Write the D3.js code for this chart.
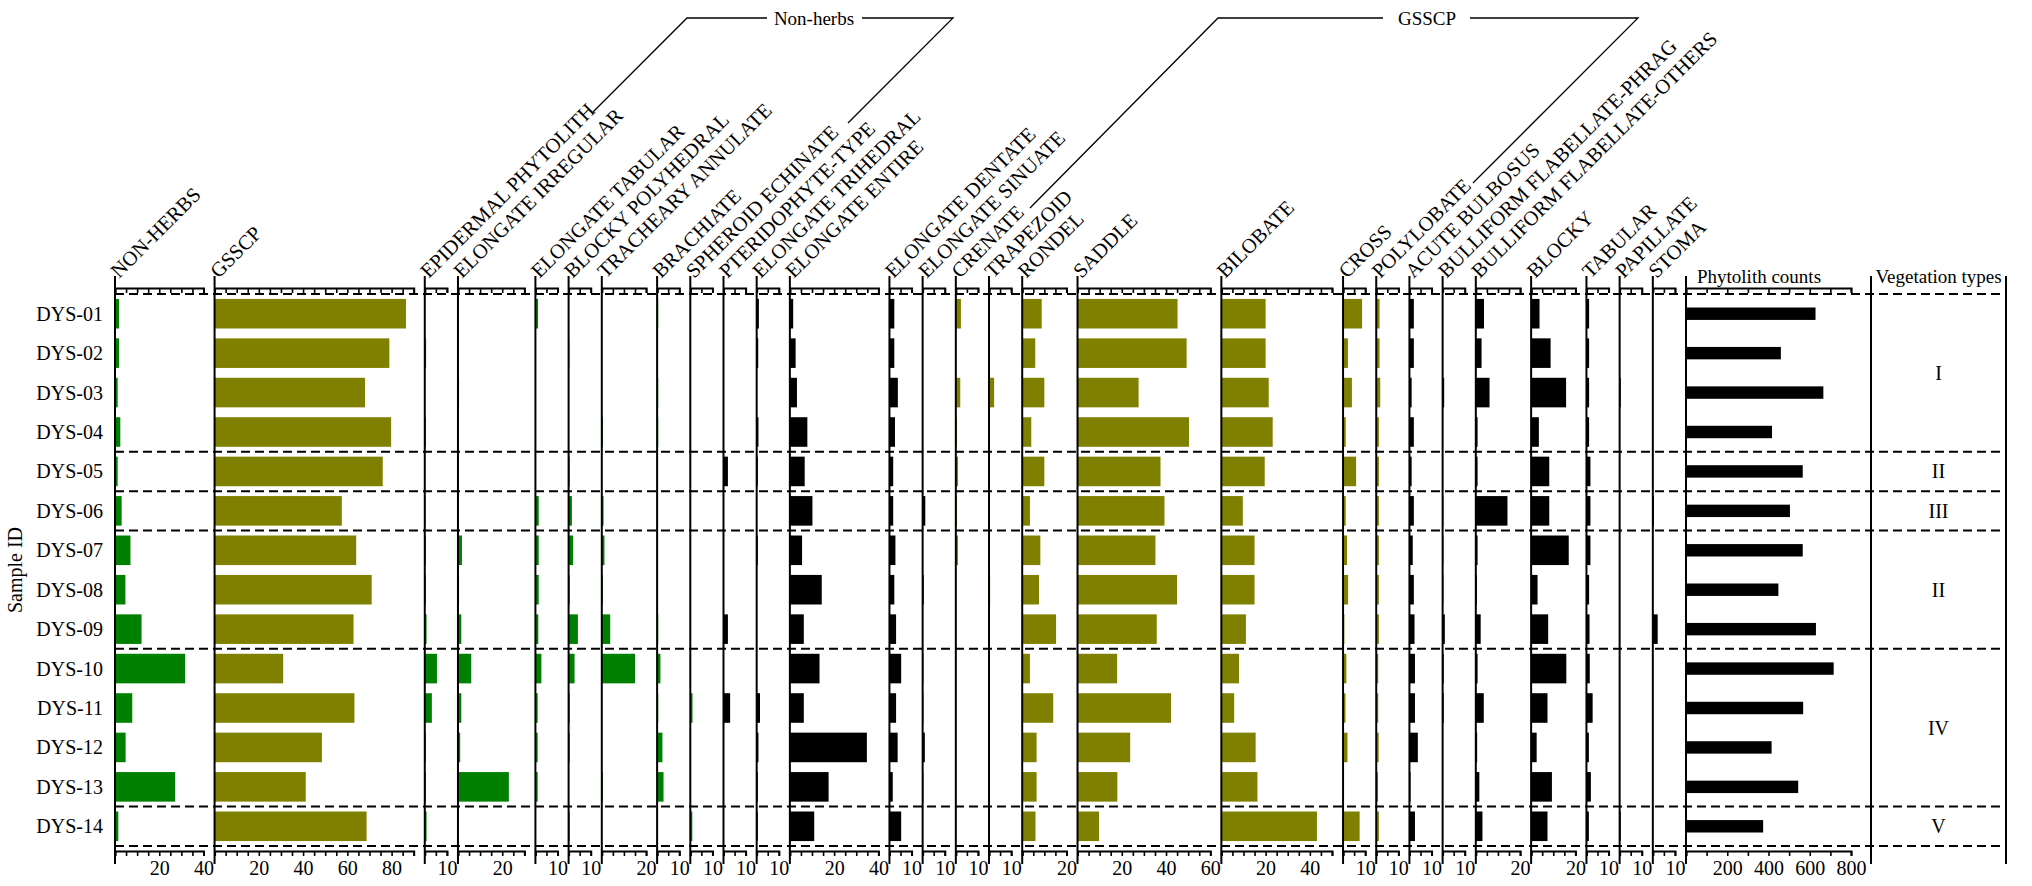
<!DOCTYPE html>
<html>
<head>
<meta charset="utf-8">
<script src="https://cdn.jsdelivr.net/npm/d3@7"></script>
<style>
body { margin: 0; background: #fff; }
text { font-family: "Liberation Serif", "Times New Roman", serif; fill: #000; }
</style>
</head>
<body>
<div id="chart"></div>
<script>
// Samples (rows)
var samples = ["DYS-01", "DYS-02", "DYS-03", "DYS-04", "DYS-05", "DYS-06", "DYS-07",
  "DYS-08", "DYS-09", "DYS-10", "DYS-11", "DYS-12", "DYS-13", "DYS-14"];

// Percentages per morphotype, one value per sample
var nonHerbs = [1.8, 1.8, 1.2, 2.4, 1.2, 3, 7, 4.7, 12, 31.7, 7.8, 4.8, 27.2, 1.5];
var gsscpTotal = [86.5, 79, 68, 79.8, 76, 57.5, 64, 71, 62.8, 31, 63.2, 48.5, 41.2, 68.7];
var epidermal = [0, 0.6, 0, 0.5, 0, 0.3, 0.5, 0.5, 0.8, 5.5, 3.2, 0.5, 0.5, 0.8];
var elongIrregular = [0, 0, 0.5, 0, 0, 0, 1.8, 0.5, 1.5, 6, 1.5, 1, 23, 0];
var elongTabular = [1.2, 0, 0, 0, 0, 1.5, 1.5, 1.5, 1.3, 2.7, 1, 1, 1, 0];
var blockyPoly = [0, 0.3, 0, 0, 0.5, 1.5, 2, 0.5, 4.2, 2.7, 0.5, 0.5, 0, 0.5];
var tracheary = [0, 0, 0, 0.5, 0, 0.8, 1.2, 0.5, 3.8, 15, 0, 0, 0.5, 0];
var brachiate = [0.5, 0, 0.5, 0.5, 0, 0, 0, 0, 0.5, 1.5, 0.5, 2.4, 2.9, 0];
var spheroid = [0, 0, 0, 0, 0, 0, 0, 0, 0, 0, 1, 0, 0, 0.9];
var pterido = [0, 0, 0, 0, 2, 0, 0, 0, 2, 0, 3, 0, 0, 0];
var elongTrihedral = [1, 0.7, 0, 0.8, 0.5, 0, 0.5, 0, 0, 0, 1.5, 0.8, 0.5, 0.5];
var elongEntire = [1.5, 2.6, 3.2, 7.9, 6.7, 10.2, 5.5, 14.4, 6.3, 13.4, 6.3, 34.8, 17.5, 11];
var elongDentate = [2.2, 2.2, 3.8, 2.5, 1.7, 1.7, 2.7, 2.2, 3, 5.3, 3, 3.7, 1.5, 5.3];
var elongSinuate = [0, 0, 0, 0, 0, 1.2, 0, 0.5, 0, 0.3, 0.3, 1, 0.3, 0];
var crenate = [2.3, 0, 2, 0.5, 1, 0.5, 1, 0, 0, 0, 0, 0, 0, 0];
var trapezoid = [0, 0, 2.3, 0, 0, 0, 0, 0.5, 0, 0, 0, 0, 0, 0];
var rondel = [8.8, 5.9, 10, 4.1, 10, 3.5, 8.2, 7.6, 15.3, 3.5, 14, 6.5, 6.5, 6];
var saddle = [45.2, 49.3, 27.6, 50.4, 37.5, 39.3, 35.2, 45, 35.8, 17.9, 42.3, 23.8, 18, 9.7];
var bilobate = [20, 20, 21.4, 23.2, 19.6, 9.7, 15, 15, 11.1, 8, 5.8, 15.5, 16.3, 43.2];
var cross = [8.6, 2.2, 4, 1.2, 5.9, 1.2, 1.8, 2.3, 0.6, 1.5, 1.1, 2, 0.3, 7.5];
var polylobate = [1.5, 1.5, 1.8, 1.2, 1.2, 1.2, 1.2, 1.2, 1.2, 0.9, 0.9, 1.1, 0.8, 1.2];
var acuteBulbosus = [2, 2, 1, 2, 1, 2, 1.5, 2, 2.3, 2.5, 2.5, 3.8, 0.5, 2.5];
var bulliformPhrag = [0, 0, 0.7, 0, 0, 0.3, 0.3, 0.3, 1, 0.5, 0.5, 0, 0, 0];
var bulliformOthers = [3.7, 2.6, 6.2, 0.8, 0.8, 14.3, 0.8, 0.5, 2.2, 0.8, 3.6, 0.6, 1.6, 3];
var blocky = [3.8, 8.8, 15.8, 3.5, 8.2, 8.2, 17, 2.9, 7.7, 15.9, 7.4, 2.5, 9.4, 7.4];
var tabular = [1.2, 1.2, 1.2, 1.2, 1.8, 1.8, 1.8, 1.2, 1.4, 1.5, 2.8, 1.1, 2, 1.1];
var papillate = [0, 0, 0.5, 0, 0, 0, 0, 0, 0, 0, 0, 0, 0, 0.5];
var stoma = [0, 0, 0, 0, 0, 0.5, 0, 0, 2.2, 0, 0, 0, 0, 0];

// Phytolith counts
var counts = [628, 460, 666, 417, 566, 504, 566, 448, 630, 716, 568, 415, 544, 374];

// Vegetation types: label, first and last sample index
var vegLabels = ["I", "II", "III", "II", "IV", "V"];
var vegFirst = [0, 4, 5, 6, 9, 13];
var vegLast = [3, 4, 5, 8, 12, 13];

// Panel list: name, axis max, group (nh = non-herbs, g = GSSCP, o = other)
var taxa = [
  ["NON-HERBS", 40, "nh", nonHerbs],
  ["GSSCP", 90, "g", gsscpTotal],
  ["EPIDERMAL PHYTOLITH", 10, "nh", epidermal],
  ["ELONGATE IRREGULAR", 30, "nh", elongIrregular],
  ["ELONGATE TABULAR", 10, "nh", elongTabular],
  ["BLOCKY POLYHEDRAL", 10, "nh", blockyPoly],
  ["TRACHEARY ANNULATE", 20, "nh", tracheary],
  ["BRACHIATE", 10, "nh", brachiate],
  ["SPHEROID ECHINATE", 10, "nh", spheroid],
  ["PTERIDOPHYTE-TYPE", 10, "o", pterido],
  ["ELONGATE TRIHEDRAL", 10, "o", elongTrihedral],
  ["ELONGATE ENTIRE", 40, "o", elongEntire],
  ["ELONGATE DENTATE", 10, "o", elongDentate],
  ["ELONGATE SINUATE", 10, "o", elongSinuate],
  ["CRENATE", 10, "g", crenate],
  ["TRAPEZOID", 10, "g", trapezoid],
  ["RONDEL", 20, "g", rondel],
  ["SADDLE", 60, "g", saddle],
  ["BILOBATE", 50, "g", bilobate],
  ["CROSS", 10, "g", cross],
  ["POLYLOBATE", 10, "g", polylobate],
  ["ACUTE BULBOSUS", 10, "o", acuteBulbosus],
  ["BULLIFORM FLABELLATE-PHRAG", 10, "o", bulliformPhrag],
  ["BULLIFORM FLABELLATE-OTHERS", 20, "o", bulliformOthers],
  ["BLOCKY", 20, "o", blocky],
  ["TABULAR", 10, "o", tabular],
  ["PAPILLATE", 10, "o", papillate],
  ["STOMA", 10, "o", stoma]
];

var colour = { nh: "#008000", g: "#808000", o: "#000000" };

var svgWidth = 2032;
var svgHeight = 886;

var svg = d3.select("#chart")
  .append("svg")
  .attr("width", svgWidth)
  .attr("height", svgHeight);

// layout
var left = 115;
var unit = 2.2127;          // px per percent
var gap = 5;                // empty percent units between panels
var topAxisY = 288;
var bottomAxisY = 851;
var lineTop = 276;
var lineBottom = 864;
var countsX = 1686;
var vegLeft = 1871;
var vegRight = 2006;

var y = d3.scaleBand()
  .domain(samples)
  .range([294, 846])
  .paddingInner(0.25)
  .paddingOuter(0.125);
var step = y.step();

// sample labels
svg.append("g").selectAll("text")
  .data(samples)
  .enter()
  .append("text")
  .attr("x", 103)
  .attr("y", d => y(d) + y.bandwidth() / 2)
  .attr("dy", "0.35em")
  .attr("text-anchor", "end")
  .style("font-size", "20px")
  .text(d => d);

svg.append("text")
  .attr("transform", "translate(22, 570) rotate(-90)")
  .attr("text-anchor", "middle")
  .style("font-size", "20px")
  .text("Sample ID");

function drawAxes(x, max, tickStep, labelFn) {
  var ticks = d3.range(0, max + tickStep / 2, tickStep);
  var bottom = d3.axisBottom(x).tickValues(ticks).tickSize(5).tickPadding(5)
    .tickFormat(d => labelFn(d) ? d : "");
  var top = d3.axisBottom(x).tickValues(ticks).tickSize(5).tickFormat("");
  var gb = svg.append("g")
    .attr("transform", `translate(0, ${bottomAxisY})`)
    .call(bottom);
  var gt = svg.append("g")
    .attr("transform", `translate(0, ${topAxisY})`)
    .call(top);
  [gb, gt].forEach(function(g) {
    g.select(".domain").attr("stroke", "#000").attr("stroke-width", 2);
    g.selectAll(".tick line").attr("stroke", "#000").attr("stroke-width", 1.6);
    g.selectAll(".tick text")
      .style("font-family", "'Liberation Serif', serif")
      .style("font-size", "20px")
      .attr("fill", "#000");
  });
  svg.append("line")
    .attr("x1", x(0)).attr("x2", x(0))
    .attr("y1", lineTop).attr("y2", lineBottom)
    .attr("stroke", "#000")
    .attr("stroke-width", 2);
}

// percentage panels
var cursor = 0;
taxa.forEach(function(t) {
  var name = t[0], max = t[1], group = t[2], vals = t[3];
  var x0 = left + cursor * unit;
  var x = d3.scaleLinear().domain([0, max]).range([x0, x0 + max * unit]);
  cursor += max + gap;

  svg.append("g").selectAll("rect")
    .data(vals)
    .enter()
    .append("rect")
    .attr("x", x(0))
    .attr("y", (d, i) => y(samples[i]))
    .attr("width", d => x(d) - x(0))
    .attr("height", y.bandwidth())
    .attr("fill", colour[group]);

  drawAxes(x, max, 5, d => max <= 10 ? d === 10 : (d > 0 && d % 20 === 0));

  svg.append("text")
    .attr("transform", `translate(${x(0) + 4}, ${lineTop + 3}) rotate(-45)`)
    .style("font-size", "20.5px")
    .text(name);
});

// phytolith counts
var xc = d3.scaleLinear().domain([0, 800]).range([countsX, countsX + 165]);
svg.append("g").selectAll("rect")
  .data(counts)
  .enter()
  .append("rect")
  .attr("x", xc(0))
  .attr("y", (d, i) => y(samples[i]) + y.bandwidth() * 0.29)
  .attr("width", d => xc(d) - xc(0))
  .attr("height", y.bandwidth() * 0.42)
  .attr("fill", "#000");
drawAxes(xc, 800, 100, d => d > 0 && d % 200 === 0);

svg.append("text")
  .attr("x", 1697)
  .attr("y", 283)
  .style("font-size", "19px")
  .text("Phytolith counts");

// vegetation column
[vegLeft, vegRight].forEach(function(vx) {
  svg.append("line")
    .attr("x1", vx).attr("x2", vx)
    .attr("y1", lineTop).attr("y2", lineBottom)
    .attr("stroke", "#000")
    .attr("stroke-width", 2);
});
svg.append("text")
  .attr("x", (vegLeft + vegRight) / 2)
  .attr("y", 283)
  .attr("text-anchor", "middle")
  .style("font-size", "19px")
  .text("Vegetation types");

svg.append("g").selectAll("text")
  .data(vegLabels)
  .enter()
  .append("text")
  .attr("x", (vegLeft + vegRight) / 2)
  .attr("y", (d, i) => (y(samples[vegFirst[i]]) + y(samples[vegLast[i]]) + y.bandwidth()) / 2)
  .attr("dy", "0.35em")
  .attr("text-anchor", "middle")
  .style("font-size", "20px")
  .text(d => d);

// dashed zone boundaries
var bounds = [y(samples[0]) - (step - y.bandwidth()) / 2];
vegLast.forEach(function(i) {
  bounds.push(y(samples[i]) + y.bandwidth() + (step - y.bandwidth()) / 2);
});
svg.append("g").selectAll("line")
  .data(bounds)
  .enter()
  .append("line")
  .attr("x1", left)
  .attr("x2", vegRight)
  .attr("y1", d => d)
  .attr("y2", d => d)
  .attr("stroke", "#000")
  .attr("stroke-width", 2)
  .attr("stroke-dasharray", "9,5");

// group brackets
function bracket(points1, label, cx, points2) {
  var line = d3.line();
  svg.append("path").attr("d", line(points1)).attr("fill", "none").attr("stroke", "#000").attr("stroke-width", 1.3);
  svg.append("path").attr("d", line(points2)).attr("fill", "none").attr("stroke", "#000").attr("stroke-width", 1.3);
  svg.append("text")
    .attr("x", cx)
    .attr("y", 18)
    .attr("dy", "0.35em")
    .attr("text-anchor", "middle")
    .style("font-size", "19px")
    .text(label);
}
bracket([[593, 112], [687, 18], [767, 18]], "Non-herbs", 814, [[862, 18], [953, 18], [848, 123]]);
bracket([[1030, 208], [1218, 18], [1383, 18]], "GSSCP", 1427, [[1470, 18], [1638, 18], [1473, 183]]);
</script>
</body>
</html>
